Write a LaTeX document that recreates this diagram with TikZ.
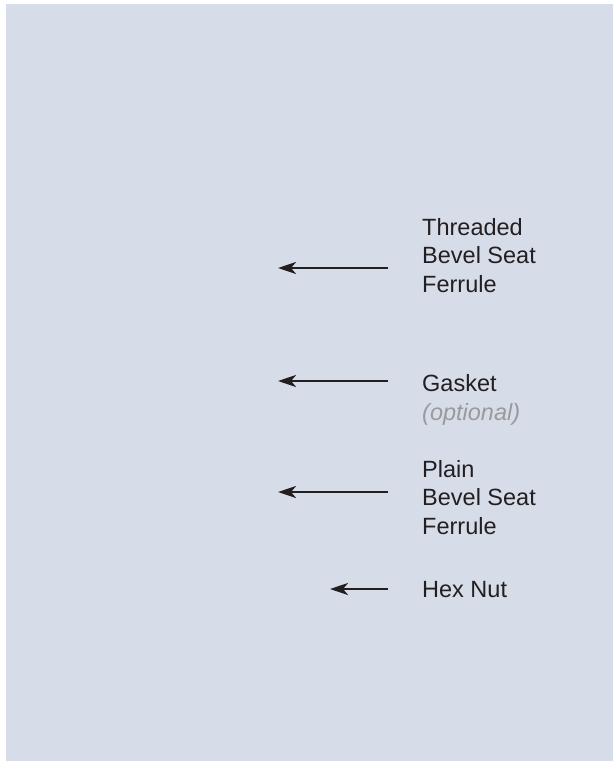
\documentclass[tikz,border=0pt]{standalone}
\usepackage{fontspec}
\setmainfont{Liberation Sans}
\usetikzlibrary{arrows.meta}
\definecolor{panel}{HTML}{D6DCE8}
\definecolor{ink}{HTML}{231F20}
\definecolor{note}{HTML}{9A9A9A}
\tikzset{
  lbl/.style={anchor=base west, inner sep=0pt, align=left, text=ink,
    font=\fontsize{23.5}{28.5}\selectfont},
  pointer/.style={draw=ink, line width=2.8pt,
    -{Stealth[length=18pt,width=12pt,inset=5pt]}}
}
\begin{document}
\begin{tikzpicture}[x=1pt,y=-1pt]
\useasboundingbox (0,0) rectangle (613,761);
\fill[panel] (6,4) rectangle (613,761);
% labels (anchored at the baseline of their last line)
\node[lbl] (threaded) at (422,292) {Threaded\\Bevel Seat\\Ferrule};
\node[lbl] (gasket) at (422,420) {Gasket\\{\color{note}\itshape (optional)}};
\node[lbl] (plain) at (422,534) {Plain\\Bevel Seat\\Ferrule};
\node[lbl] (hexnut) at (422,597) {Hex Nut};
% arrow ends
\coordinate (t1) at (388,268); \coordinate (t2) at (278,268);
\coordinate (g1) at (388,381); \coordinate (g2) at (278,381);
\coordinate (p1) at (388,492); \coordinate (p2) at (278,492);
\coordinate (h1) at (388,589); \coordinate (h2) at (330,589);
\draw[pointer] (t1) -- (t2);
\draw[pointer] (g1) -- (g2);
\draw[pointer] (p1) -- (p2);
\draw[pointer] (h1) -- (h2);
\end{tikzpicture}
\end{document}
